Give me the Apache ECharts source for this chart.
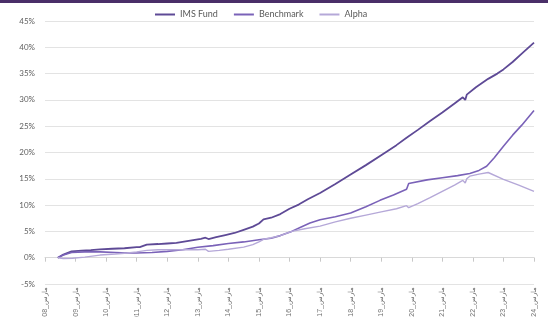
<!DOCTYPE html>
<html><head><meta charset="utf-8">
<script src="https://cdn.jsdelivr.net/npm/echarts@6/dist/echarts.min.js"></script>
<style>html,body{margin:0;padding:0;background:#fff}#c{width:548px;height:317px}</style>
</head><body><div id="c"></div>
<script>
var seriesNames = ['IMS Fund', 'Benchmark', 'Alpha'];
var yearTicks = [2008,2009,2010,2011,2012,2013,2014,2015,2016,2017,2018,2019,2020,2021,2022,2023,2024];
var monthLabel = 'مارس';

var fundDates = [2008.42,2008.6,2008.87,2009.2,2009.5,2009.8,2010.2,2010.6,2011.0,2011.1,2011.33,2011.7,2012.0,2012.3,2012.6,2012.9,2013.1,2013.25,2013.35,2013.6,2013.9,2014.2,2014.5,2014.8,2015.0,2015.15,2015.4,2015.7,2016.0,2016.3,2016.6,2017.0,2017.5,2018.0,2018.5,2019.0,2019.5,2019.83,2020.2,2020.6,2021.0,2021.4,2021.67,2021.75,2021.8,2022.1,2022.5,2022.8,2023.0,2023.3,2023.6,2024.0];
var fundValues = [0,0.6,1.2,1.35,1.45,1.6,1.7,1.8,2.0,2.0,2.5,2.6,2.7,2.8,3.1,3.4,3.6,3.8,3.55,3.9,4.3,4.7,5.3,5.9,6.5,7.3,7.6,8.3,9.3,10.1,11.1,12.3,14.0,15.8,17.6,19.5,21.4,22.8,24.3,26.0,27.6,29.3,30.5,30.0,31.0,32.4,34.0,35.0,35.8,37.2,38.8,40.9];

var benchDates = [2008.42,2008.6,2008.87,2009.3,2009.8,2010.3,2010.7,2011.0,2011.5,2012.0,2012.5,2013.0,2013.5,2014.0,2014.5,2015.0,2015.4,2015.7,2016.07,2016.4,2016.67,2017.0,2017.5,2018.0,2018.5,2018.96,2019.4,2019.83,2019.9,2020.5,2021.0,2021.5,2021.9,2022.2,2022.45,2022.7,2023.0,2023.3,2023.6,2024.0];
var benchValues = [0,0.5,1.0,1.1,1.1,1.0,0.9,0.9,1.0,1.2,1.5,2.0,2.3,2.7,3.0,3.4,3.7,4.2,5.0,5.9,6.6,7.2,7.8,8.5,9.7,10.9,11.9,13.0,14.1,14.8,15.2,15.6,16.0,16.6,17.4,19.0,21.2,23.3,25.2,28.0];

var alphaDates = [2008.42,2008.6,2008.9,2009.3,2009.8,2010.3,2010.7,2011.0,2011.33,2011.7,2012.0,2012.5,2013.0,2013.25,2013.35,2013.7,2014.0,2014.5,2014.8,2015.0,2015.15,2015.4,2015.7,2016.07,2016.5,2017.0,2017.5,2018.0,2018.5,2019.0,2019.5,2019.83,2019.9,2020.2,2020.6,2021.0,2021.4,2021.67,2021.75,2021.8,2021.9,2022.2,2022.5,2023.0,2023.5,2024.0];
var alphaValues = [0,-0.15,-0.1,0.1,0.5,0.7,0.9,1.1,1.4,1.5,1.5,1.5,1.5,1.6,1.2,1.4,1.6,2.0,2.5,3.0,3.5,3.8,4.2,5.0,5.5,6.0,6.8,7.5,8.1,8.7,9.3,9.9,9.5,10.3,11.4,12.6,13.8,14.7,14.2,15.0,15.5,15.9,16.2,14.9,13.8,12.6];

function pairs(d, v) { return d.map(function (x, i) { return [x, v[i]]; }); }

var colors = ['#5e4a96', '#7a62b8', '#b5a8d8'];
var chart = echarts.init(document.getElementById('c'));
chart.setOption({
  animation: false,
  color: colors,
  graphic: [{ type: 'rect', shape: { x: 0, y: 0, width: 548, height: 3 }, style: { fill: '#4a2f68' } }],
  legend: {
    top: 5, left: 150, itemWidth: 20, itemHeight: 2, itemGap: 16,
    icon: 'rect',
    textStyle: { fontFamily: 'Lato', fontSize: 9, color: '#595959' },
    data: seriesNames
  },
  grid: { left: 45, right: 14, top: 21, bottom: 33, containLabel: false, outerBoundsMode: 'none' },
  xAxis: [{
    type: 'value', min: 2008, max: 2024, interval: 1,
    axisLine: { onZero: true, lineStyle: { color: '#d9d9d9' } },
    axisTick: { show: true, length: 4, lineStyle: { color: '#c8c8c8' } },
    axisLabel: { show: false }, splitLine: { show: false }
  }, {
    type: 'value', min: 2008, max: 2024, interval: 1, position: 'bottom',
    axisLine: { show: false, onZero: false }, axisTick: { show: false }, splitLine: { show: false },
    axisLabel: {
      rotate: 90, margin: 3, fontSize: 7, fontFamily: 'Liberation Sans Narrow, Liberation Sans', color: '#707070',
      formatter: function (v) { return v + '_' + monthLabel; }
    }
  }],
  yAxis: {
    type: 'value', min: -5, max: 45, interval: 5,
    axisLine: { show: false }, axisTick: { show: false },
    axisLabel: { formatter: '{value}%', fontSize: 8, color: '#606060', fontFamily: 'Lato', margin: 10 },
    splitLine: { lineStyle: { color: '#e3e3e3', width: 1 } }
  },
  series: [
    { name: seriesNames[0], type: 'line', xAxisIndex: 0, showSymbol: false, data: pairs(fundDates, fundValues), lineStyle: { width: 1.8 } },
    { name: seriesNames[1], type: 'line', xAxisIndex: 0, showSymbol: false, data: pairs(benchDates, benchValues), lineStyle: { width: 1.6 } },
    { name: seriesNames[2], type: 'line', xAxisIndex: 0, showSymbol: false, data: pairs(alphaDates, alphaValues), lineStyle: { width: 1.4 } }
  ]
});
</script></body></html>
